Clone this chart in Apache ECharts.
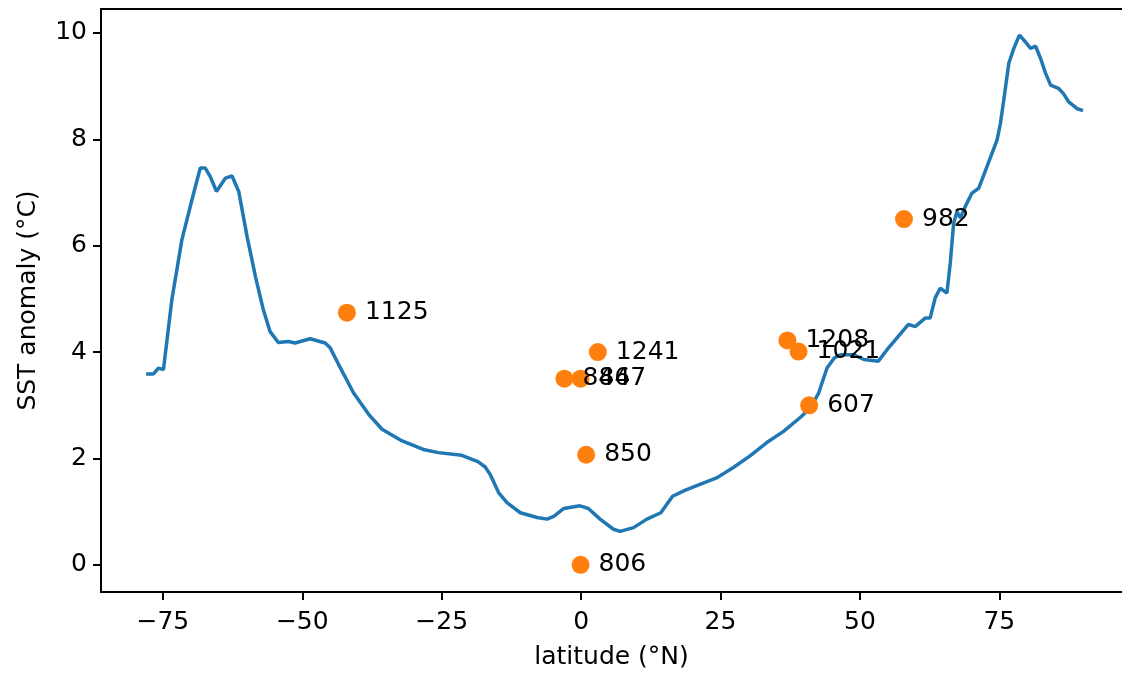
<!DOCTYPE html>
<html>
<head>
<meta charset="utf-8">
<script src="https://cdn.jsdelivr.net/npm/echarts@6/dist/echarts.min.js"></script>
<style>
  html, body { margin: 0; padding: 0; background: #fff; }
  #chart { width: 1122px; height: 675px; }
</style>
</head>
<body>
<div id="chart"></div>
<script>
// zonal mean SST anomaly curve, [latitude, anomaly]
var curveLat = [-78.0,-76.7,-75.8,-74.9,-73.4,-71.6,-69.8,-68.3,-67.4,-66.5,-65.4,-63.8,-62.6,-61.4,-59.9,-58.4,-57.0,-55.8,-54.3,-52.5,-51.3,-48.6,-45.9,-45.0,-43.5,-40.8,-38.1,-35.7,-32.1,-28.3,-25.6,-21.4,-18.5,-17.2,-16.3,-14.8,-13.3,-10.9,-7.9,-6.1,-4.9,-3.1,-0.2,1.3,3.4,5.8,7.0,9.4,11.8,14.3,16.4,18.6,21.2,24.4,27.3,30.3,33.3,36.3,39.3,41.1,42.6,44.1,45.4,46.5,48.9,50.7,53.3,54.9,56.5,58.7,59.9,61.7,62.6,63.5,64.4,65.6,66.2,66.8,67.4,68.0,68.9,70.1,71.3,72.8,74.6,75.2,75.8,76.7,77.6,78.6,79.7,80.6,81.5,82.4,83.3,84.2,85.6,86.5,87.4,88.9,90.0];
var curveSst = [3.59,3.59,3.70,3.67,4.98,6.11,6.86,7.46,7.46,7.30,7.02,7.27,7.31,7.02,6.17,5.42,4.80,4.39,4.18,4.20,4.17,4.25,4.17,4.08,3.77,3.23,2.83,2.55,2.33,2.17,2.11,2.06,1.94,1.84,1.70,1.36,1.17,0.98,0.89,0.86,0.91,1.06,1.11,1.06,0.86,0.67,0.63,0.70,0.86,0.98,1.29,1.40,1.51,1.64,1.83,2.05,2.30,2.51,2.77,2.95,3.23,3.70,3.89,3.95,3.95,3.86,3.83,4.05,4.25,4.52,4.48,4.64,4.64,5.02,5.20,5.11,5.67,6.42,6.64,6.52,6.74,6.99,7.08,7.49,7.99,8.30,8.74,9.43,9.71,9.96,9.83,9.71,9.75,9.52,9.24,9.02,8.96,8.86,8.71,8.58,8.54];

// core sites
var siteNames = ['1125','1241','846','847','850','806','1208','1021','607','982'];
var siteLat   = [-42.0, 3.0, -3.0, -0.1, 0.9, -0.1, 37.0, 39.0, 40.9, 57.9];
var siteSst   = [4.74, 4.0, 3.5, 3.5, 2.07, 0.0, 4.22, 4.01, 3.0, 6.5];

var xTicks = [-75, -50, -25, 0, 25, 50, 75];
var yTicks = [0, 2, 4, 6, 8, 10];

(function(){
	var myChart = echarts.init(document.getElementById('chart'));
	var font = 'DejaVu Sans';
	var fs = 25;
	var fmt = function (v) { return String(v).replace('-', '\u2212'); };

	var lineData = curveLat.map(function (x, i) { return [x, curveSst[i]]; });
	var siteData = siteLat.map(function (x, i) {
		return { name: siteNames[i], value: [x, siteSst[i]] };
	});

	var option = {
		backgroundColor: '#fff',
		animation: false,
		textStyle: { fontFamily: font },
		grid: { left: 101, right: 0, top: 9, bottom: 81 },
		xAxis: [
			{
				type: 'value',
				min: -86.1,
				max: 97,
				name: 'latitude (°N)',
				nameLocation: 'middle',
				nameGap: 53,
				nameTextStyle: { color: '#000', fontSize: fs, fontFamily: font },
				splitLine: { show: false },
				axisLine: { show: true, onZero: false, lineStyle: { color: '#000', width: 2 } },
				axisTick: { show: true, length: 8, lineStyle: { color: '#000', width: 2 }, customValues: xTicks },
				axisLabel: { color: '#000', fontSize: fs, fontFamily: font, margin: 18, customValues: xTicks, formatter: fmt }
			},
			{
				type: 'value',
				position: 'top',
				min: -86.1,
				max: 97,
				splitLine: { show: false },
				axisLine: { show: true, onZero: false, lineStyle: { color: '#000', width: 2 } },
				axisTick: { show: false },
				axisLabel: { show: false }
			}
		],
		yAxis: {
			type: 'value',
			min: -0.51,
			max: 10.45,
			name: 'SST anomaly (°C)',
			nameLocation: 'middle',
			nameGap: 60,
			nameTextStyle: { color: '#000', fontSize: fs, fontFamily: font },
			splitLine: { show: false },
			axisLine: { show: true, onZero: false, lineStyle: { color: '#000', width: 2 } },
			axisTick: { show: true, length: 8, lineStyle: { color: '#000', width: 2 }, customValues: yTicks },
			axisLabel: { color: '#000', fontSize: fs, fontFamily: font, margin: 14, customValues: yTicks, formatter: fmt }
		},
		series: [
			{
				name: 'SST anomaly',
				type: 'line',
				data: lineData,
				showSymbol: false,
				smooth: false,
				lineStyle: { color: '#1f77b4', width: 3.5 },
				z: 2
			},
			{
				name: 'sites',
				type: 'scatter',
				data: siteData,
				symbolSize: 18,
				itemStyle: { color: '#ff7f0e', opacity: 1 },
				label: {
					show: true,
					position: 'right',
					distance: 9,
					formatter: '{b}',
					color: '#000',
					fontSize: fs,
					fontFamily: font
				},
				z: 3
			}
		]
	};
	myChart.setOption(option);
	window.addEventListener('resize', function() {
		myChart.resize();
	});
})();
</script>
</body>
</html>
